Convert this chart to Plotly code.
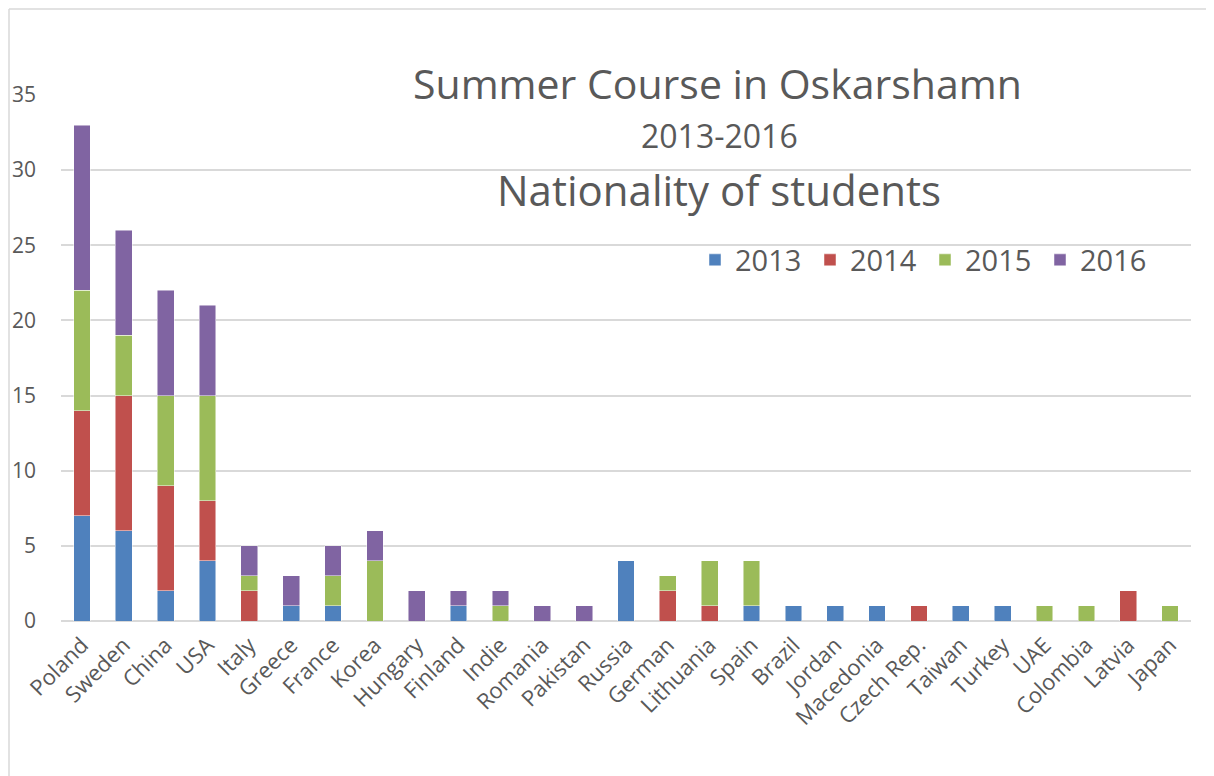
import plotly.graph_objects as go

countries = ["Poland", "Sweden", "China", "USA", "Italy", "Greece", "France", "Korea",
             "Hungary", "Finland", "Indie", "Romania", "Pakistan", "Russia", "German",
             "Lithuania", "Spain", "Brazil", "Jordan", "Macedonia", "Czech Rep.", "Taiwan",
             "Turkey", "UAE", "Colombia", "Latvia", "Japan"]
y2013 = [7, 6, 2, 4, 0, 1, 1, 0, 0, 1, 0, 0, 0, 4, 0, 0, 1, 1, 1, 1, 0, 1, 1, 0, 0, 0, 0]
y2014 = [7, 9, 7, 4, 2, 0, 0, 0, 0, 0, 0, 0, 0, 0, 2, 1, 0, 0, 0, 0, 1, 0, 0, 0, 0, 2, 0]
y2015 = [8, 4, 6, 7, 1, 0, 2, 4, 0, 0, 1, 0, 0, 0, 1, 3, 3, 0, 0, 0, 0, 0, 0, 1, 1, 0, 1]
y2016 = [11, 7, 7, 6, 2, 2, 2, 2, 2, 1, 1, 1, 1, 0, 0, 0, 0, 0, 0, 0, 0, 0, 0, 0, 0, 0, 0]
y_ticks = [0, 5, 10, 15, 20, 25, 30, 35]

series = [("2013", y2013, "#4f81bd"), ("2014", y2014, "#c0504d"),
          ("2015", y2015, "#9bbb59"), ("2016", y2016, "#8064a2")]

FONT = "Open Sans"
GRAY = "#595959"

fig = go.Figure()
for name, vals, col in series:
    fig.add_trace(go.Bar(x=countries, y=vals, name=name, marker_color=col,
                         marker_line=dict(color="rgba(255,255,255,0.6)", width=0.8),
                         width=0.4))

# page body has an 8px margin; work in screen coordinates and convert
OFF = 8
W, H = 1206, 768
ml, mr, mt, mb = 61 - OFF, 23, 95 - OFF, 155
pw, ph = W - ml - mr, H - mt - mb

def px(x):
    return (x - OFF - ml) / pw

def py(y):
    return (H - mb - (y - OFF)) / ph

fig.update_layout(
    width=W, height=H,
    margin=dict(l=ml, r=mr, t=mt, b=mb, autoexpand=False),
    barmode="stack",
    plot_bgcolor="white", paper_bgcolor="white",
    font=dict(family=FONT, color=GRAY),
    showlegend=True,
    legend=dict(orientation="h", x=px(695), y=py(260), xanchor="left", yanchor="middle",
                font=dict(size=29, color=GRAY, family=FONT), bgcolor="rgba(0,0,0,0)",
                entrywidth=70, traceorder="normal"),
    xaxis=dict(tickangle=-45, tickfont=dict(size=22, color=GRAY, family=FONT),
               showgrid=False, showline=False, ticks="", range=[-0.5, len(countries) - 0.5],
               ticklabelstandoff=6),
    yaxis=dict(range=[0, 35], tickvals=y_ticks, tickfont=dict(size=21, color=GRAY, family=FONT),
               showgrid=True, gridcolor="#d9d9d9", gridwidth=1.5, zeroline=True,
               zerolinecolor="#d9d9d9", zerolinewidth=2, ticks="", showline=False,
               ticklabelstandoff=24),
    bargap=0.6,
)

fig.add_annotation(text="Summer Course in Oskarshamn", x=px(717), y=py(83), xref="paper", yref="paper",
                   showarrow=False, font=dict(size=41, color=GRAY, family=FONT),
                   xanchor="center", yanchor="middle")
fig.add_annotation(text="2013-2016", x=px(719), y=py(135), xref="paper", yref="paper",
                   showarrow=False, font=dict(size=32, color=GRAY, family=FONT),
                   xanchor="center", yanchor="middle")
fig.add_annotation(text="Nationality of students", x=px(719), y=py(189), xref="paper", yref="paper",
                   showarrow=False, font=dict(size=42, color=GRAY, family=FONT),
                   xanchor="center", yanchor="middle")

fig.add_shape(type="line", xref="paper", yref="paper", x0=px(9), x1=px(1230), y0=py(9), y1=py(9),
              line=dict(color="#d9d9d9", width=1.5))
fig.add_shape(type="line", xref="paper", yref="paper", x0=px(9), x1=px(9), y0=py(9), y1=py(800),
              line=dict(color="#d9d9d9", width=1.5))

fig.write_html("out.html")
